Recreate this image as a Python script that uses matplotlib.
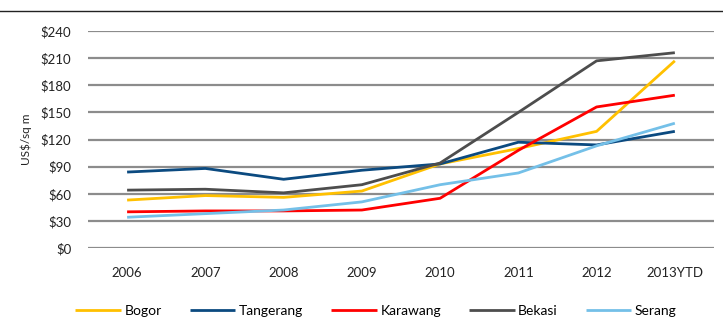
import matplotlib.pyplot as plt
from matplotlib.lines import Line2D

plt.rcParams['font.family'] = ['Lato', 'DejaVu Sans']

years = ["2006", "2007", "2008", "2009", "2010", "2011", "2012", "2013YTD"]
bogor = [53, 58, 56, 63, 93, 110, 129, 207]
tangerang = [84, 88, 76, 86, 93, 117, 114, 129]
karawang = [40, 41, 41, 42, 55, 108, 156, 169]
bekasi = [64, 65, 61, 70, 94, 150, 207, 216]
serang = [34, 38, 42, 51, 70, 83, 113, 138]

series = [
    ("Bogor", bogor, "#FFC000"),
    ("Tangerang", tangerang, "#0B4A80"),
    ("Karawang", karawang, "#FF0000"),
    ("Bekasi", bekasi, "#4D4D4D"),
    ("Serang", serang, "#74C0E8"),
]

fig = plt.figure(figsize=(7.23, 3.21), dpi=100)
ax = fig.add_axes([0.1217, 0.2274, 0.8658, 0.676])

x = range(len(years))
for name, vals, color in series:
    ax.plot(x, vals, color=color, lw=2.0, label=name, clip_on=False,
            solid_capstyle="butt", zorder=3)

ax.set_xlim(-0.5, len(years) - 0.5)
ax.set_ylim(0, 240)
ax.set_yticks(range(0, 241, 30))
ax.set_yticklabels([f"${v}" for v in range(0, 241, 30)])
ax.set_xticks(list(x))
ax.set_xticklabels(years)
ax.yaxis.grid(True, color="#8C8C8C", lw=1.6)
ax.set_axisbelow(True)
for s in ax.spines.values():
    s.set_visible(False)
ax.tick_params(length=0, labelsize=9.5, colors="#222222")
ax.tick_params(axis="x", pad=14)
ax.tick_params(axis="y", pad=12)
ax.set_ylabel("US$/sq m", fontsize=8.5, color="#222222", labelpad=6)

# thin rule across the top
fig.add_artist(Line2D([0, 1], [1 - 11 / 321, 1 - 11 / 321], color="#222222", lw=1.0))

fig.legend(loc="lower center", bbox_to_anchor=(0.52, -0.025), ncol=5, frameon=False,
           fontsize=10, handlelength=3.3, handletextpad=0.25, columnspacing=2.0)

fig.savefig("out.png", dpi=100)
